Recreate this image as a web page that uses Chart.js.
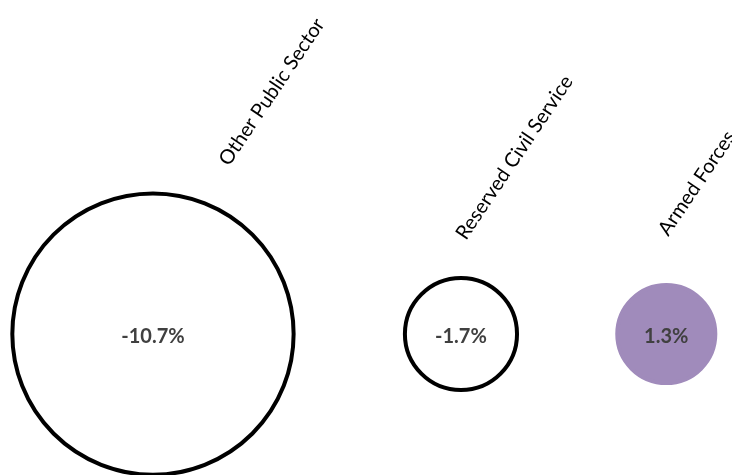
<!DOCTYPE html>
<html>
<head>
<meta charset="utf-8">
<script src="https://cdn.jsdelivr.net/npm/chart.js@4/dist/chart.umd.min.js"></script>
<style>
  html, body { margin: 0; padding: 0; background: #fff; }
  #wrap { width: 732px; height: 475px; }
</style>
</head>
<body>
<div id="wrap"><canvas id="chart"></canvas></div>
<script>
// data
const categories = ['Other Public Sector', 'Reserved Civil Service', 'Armed Forces']
const changes = [-10.7, -1.7, 1.3]   // % change, bubble area ~ |value|
const xPositions = [1, 4, 6]
const yPositions = [0, 0, 0]

// layout for the rotated category labels (baseline start, relative to bubble centre)
const labelOffsets = [[76, -167], [5, -93], [2, -97]]
const labelAngle = -56

const purple = '#a08bbb'

const points = changes.map((v, i) => ({ x: xPositions[i], y: yPositions[i], v: v }))

const labelPlugin = {
  id: 'bubbleLabels',
  afterDatasetsDraw(chart) {
    const ctx = chart.ctx
    const meta = chart.getDatasetMeta(0)
    meta.data.forEach((el, i) => {
      ctx.save()
      ctx.fillStyle = '#404040'
      ctx.font = 'bold 20px Lato, "Open Sans", sans-serif'
      ctx.textAlign = 'center'
      ctx.textBaseline = 'middle'
      ctx.fillText(changes[i].toFixed(1) + '%', el.x, el.y + 2)
      ctx.restore()

      ctx.save()
      ctx.translate(el.x + labelOffsets[i][0], el.y + labelOffsets[i][1])
      ctx.rotate(labelAngle * Math.PI / 180)
      ctx.fillStyle = '#000'
      ctx.font = '20px Lato, "Open Sans", sans-serif'
      ctx.textAlign = 'left'
      ctx.textBaseline = 'alphabetic'
      ctx.fillText(categories[i], 0, 0)
      ctx.restore()
    })
  }
}

new Chart(document.getElementById('chart'), {
  type: 'bubble',
  data: {
    datasets: [{
      data: points,
      radius: c => 43 * Math.sqrt(Math.abs(c.raw.v)),
      backgroundColor: c => c.raw.v < 0 ? '#ffffff' : purple,
      borderColor: c => c.raw.v < 0 ? '#000000' : purple,
      borderWidth: 4,
      hoverRadius: 0,
      clip: false
    }]
  },
  options: {
    responsive: true,
    maintainAspectRatio: false,
    animation: false,
    layout: { padding: 0, autoPadding: false },
    scales: {
      x: { type: 'linear', min: -0.49, max: 6.64, display: false },
      y: { type: 'linear', min: -1, max: 2.37, display: false }
    },
    plugins: {
      legend: { display: false },
      tooltip: { enabled: false }
    }
  },
  plugins: [labelPlugin]
})
</script>
</body>
</html>
